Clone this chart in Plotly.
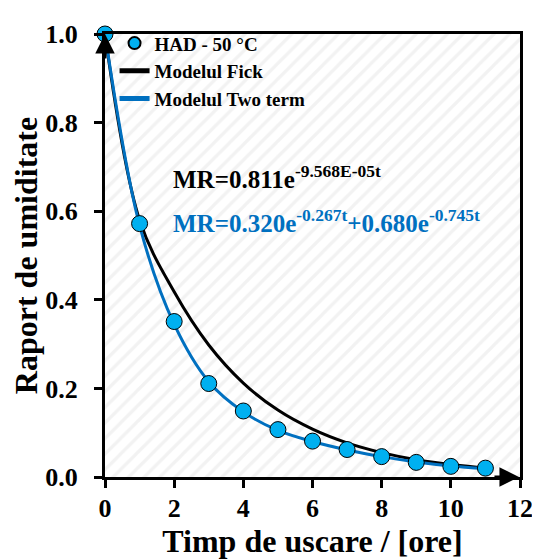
import plotly.graph_objects as go

# ---- data ----
t_hours = [0, 1, 2, 3, 4, 5, 6, 7, 8, 9, 10, 11]
mr_measured = [1.0, 0.572, 0.351, 0.211, 0.149, 0.107, 0.081, 0.062, 0.046, 0.033, 0.024, 0.020]
mr_fick = [1.0, 0.580, 0.418, 0.298, 0.212, 0.151, 0.108, 0.077, 0.055, 0.039, 0.028, 0.020]
mr_twoterm = [1.0, 0.568, 0.345, 0.215, 0.147, 0.105, 0.080, 0.061, 0.046, 0.034, 0.025, 0.019]

x_ticks = [0, 2, 4, 6, 8, 10, 12]
y_ticks = [0.0, 0.2, 0.4, 0.6, 0.8, 1.0]
x_range = [0, 12]
y_range = [0, 1.0]

series_names = ["HAD - 50 °C", "Modelul Fick", "Modelul Two term"]
eq_fick = "MR=0.811e<sup>-9.568E-05t</sup>"
eq_two = "MR=0.320e<sup>-0.267t</sup>+0.680e<sup>-0.745t</sup>"
x_title = "Timp de uscare / [ore]"
y_title = "Raport de umiditate"

FONT = "Liberation Serif, Times New Roman, serif"
BLUE_LINE = "#0070C0"
BLUE_MARK = "#00B0F0"

fig = go.Figure()

# hatched plot background
fig.add_trace(go.Scatter(
    x=[x_range[0], x_range[1], x_range[1], x_range[0], x_range[0]],
    y=[y_range[0], y_range[0], y_range[1], y_range[1], y_range[0]],
    mode="none", fill="toself", fillcolor="white",
    fillpattern=dict(shape="/", fgcolor="#e6e6e6", bgcolor="white", size=11, solidity=0.3),
    hoverinfo="skip", showlegend=False,
))

fig.add_trace(go.Scatter(
    x=t_hours, y=mr_fick, mode="lines", name=series_names[1],
    line=dict(color="black", width=3, shape="spline", smoothing=1.0),
    legendrank=2, cliponaxis=False,
))
fig.add_trace(go.Scatter(
    x=t_hours, y=mr_twoterm, mode="lines", name=series_names[2],
    line=dict(color=BLUE_LINE, width=3, shape="spline", smoothing=1.0),
    legendrank=3, cliponaxis=False,
))
fig.add_trace(go.Scatter(
    x=t_hours, y=mr_measured, mode="markers", name=series_names[0],
    marker=dict(color=BLUE_MARK, size=16, line=dict(color="black", width=1)),
    legendrank=1, cliponaxis=False,
))

# axis arrows
fig.add_annotation(x=0, y=y_range[1], xref="x", yref="y", ax=0, ay=26,
                   showarrow=True, arrowhead=2, arrowsize=1.3, arrowwidth=3,
                   arrowcolor="black", text="")
fig.add_annotation(x=x_range[1] - 0.03, y=0, xref="x", yref="y", ax=-26, ay=0,
                   showarrow=True, arrowhead=2, arrowsize=1.3, arrowwidth=3,
                   arrowcolor="black", text="")

# equations
fig.add_annotation(x=1.9, y=0.678, xref="x", yref="y", text=eq_fick, showarrow=False,
                   xanchor="left", yanchor="middle",
                   font=dict(family=FONT, size=25, color="black", weight="bold"))
fig.add_annotation(x=1.9, y=0.578, xref="x", yref="y", text=eq_two, showarrow=False,
                   xanchor="left", yanchor="middle",
                   font=dict(family=FONT, size=25, color=BLUE_LINE, weight="bold"))

axis_font = dict(family=FONT, size=26, color="black", weight="bold")
title_font = dict(family=FONT, size=32, color="black", weight="bold")

# the page body adds an 8 px offset; margins compensate so the plot area
# lands at x 105..520, y 24..477 of the window
fig.update_layout(
    width=540, height=559,
    margin=dict(l=97, r=28, t=16, b=90),
    paper_bgcolor="white", plot_bgcolor="white",
    showlegend=True,
    legend=dict(x=0.023, y=1.022, xanchor="left", yanchor="top",
                bgcolor="rgba(0,0,0,0)", itemsizing="constant",
                font=dict(family=FONT, size=19, color="black", weight="bold"),
                tracegroupgap=0, itemwidth=30),
    xaxis=dict(range=x_range, tickvals=x_ticks, ticktext=[str(v) for v in x_ticks],
               showgrid=False, zeroline=False, showline=True, linecolor="black",
               linewidth=3, mirror=True, ticks="outside", ticklen=8, tickwidth=3,
               tickcolor="black", tickfont=axis_font, ticklabelstandoff=-2,
               title=dict(text=x_title, font=title_font, standoff=0)),
    yaxis=dict(range=y_range, tickvals=y_ticks, ticktext=[f"{v:.1f}" for v in y_ticks],
               showgrid=False, zeroline=False, showline=True, linecolor="black",
               linewidth=3, mirror=True, ticks="outside", ticklen=8, tickwidth=3,
               tickcolor="black", tickfont=axis_font, ticklabelstandoff=11,
               title=dict(text=y_title, font=title_font, standoff=0)),
)

fig.write_html("out.html")
